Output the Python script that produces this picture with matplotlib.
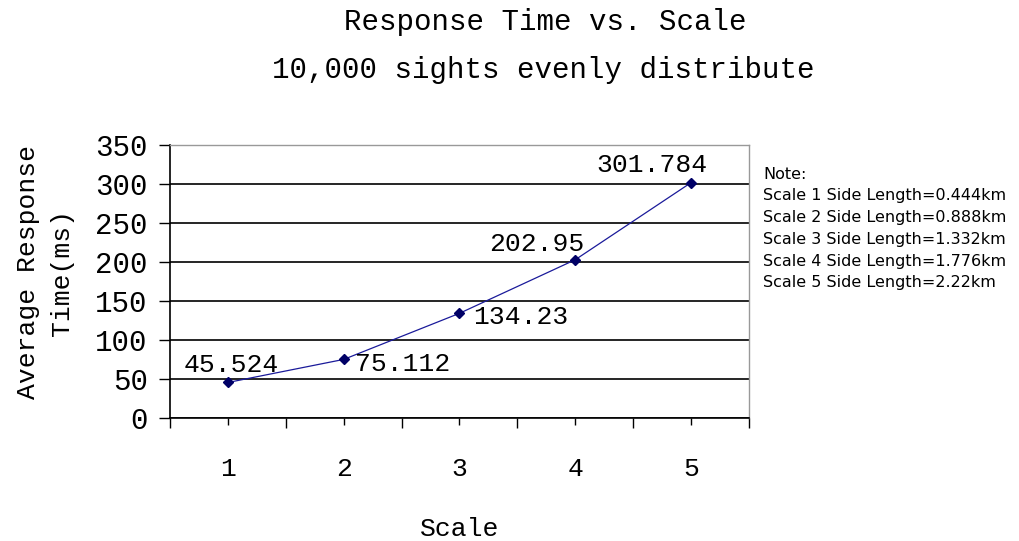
import numpy as np
import matplotlib.pyplot as plt
from matplotlib.ticker import FixedLocator

scales = [1, 2, 3, 4, 5]
resp_ms = [45.524, 75.112, 134.23, 202.95, 301.784]
value_labels = ["45.524", "75.112", "134.23", "202.95", "301.784"]
notes = ["Note:",
         "Scale 1 Side Length=0.444km",
         "Scale 2 Side Length=0.888km",
         "Scale 3 Side Length=1.332km",
         "Scale 4 Side Length=1.776km",
         "Scale 5 Side Length=2.22km"]

MONO = "Liberation Mono"

fig = plt.figure(figsize=(10.2, 5.41), dpi=100)
ax = fig.add_axes([170/1020, 1-418/541, (749-170)/1020, (418-145)/541])

ax.set_xlim(0.5, 5.5)
ax.set_ylim(0, 350)
ax.set_yticks(np.arange(0, 351, 50))
ax.grid(axis="y", color="black", lw=1.2)
ax.set_axisbelow(True)

ax.plot(scales, resp_ms, color="#1a1a9a", lw=0.9, marker="D", ms=5,
        mfc="#000066", mec="#000066")

# data label offsets in points (dx, dy)
offs = [(-32, 4), (8, -3), (10, -3), (-62, 3), (-68, 4)]
for x, y, lab, (dx, dy) in zip(scales, resp_ms, value_labels, offs):
    va = "bottom" if dy > 0 else "center"
    ax.annotate(lab, (x, y), xytext=(dx, dy), textcoords="offset points",
                ha="left", va=va, fontsize=19, family=MONO)

# ticks: labels at category centres, long ticks at boundaries
ax.set_xticks(scales)
ax.set_xticklabels([str(s) for s in scales], family=MONO, fontsize=19)
ax.xaxis.set_minor_locator(FixedLocator(np.arange(0.5, 5.6, 1)))
ax.tick_params(axis="x", which="major", length=5, width=1, pad=23)
ax.tick_params(axis="x", which="minor", length=7, width=1)
ax.tick_params(axis="y", length=8, width=1, pad=8, labelsize=21)
for t in ax.get_yticklabels():
    t.set_family(MONO)

for s in ["left", "bottom"]:
    ax.spines[s].set_color("black")
    ax.spines[s].set_linewidth(1.2)
for s in ["top", "right"]:
    ax.spines[s].set_color("#999999")
    ax.spines[s].set_linewidth(1)

ax.set_xlabel("Scale", family=MONO, fontsize=19, labelpad=26)

fig.text(545/1020, 1-22/541, "Response Time vs. Scale", ha="center",
         va="center", fontsize=21, family=MONO)
fig.text(543/1020, 1-70/541, "10,000 sights evenly distribute", ha="center",
         va="center", fontsize=21, family=MONO)

fig.text(45/1020, 1-272/541, "Average Response\nTime(ms)", rotation=90,
         ha="center", va="center", fontsize=19, family=MONO,
         multialignment="center", linespacing=1.55)

for i, line in enumerate(notes):
    fig.text(763/1020, 1-(174+21.8*i)/541, line, ha="left", va="center",
             fontsize=11.5, family="DejaVu Sans")

fig.savefig("out.png", dpi=100)
